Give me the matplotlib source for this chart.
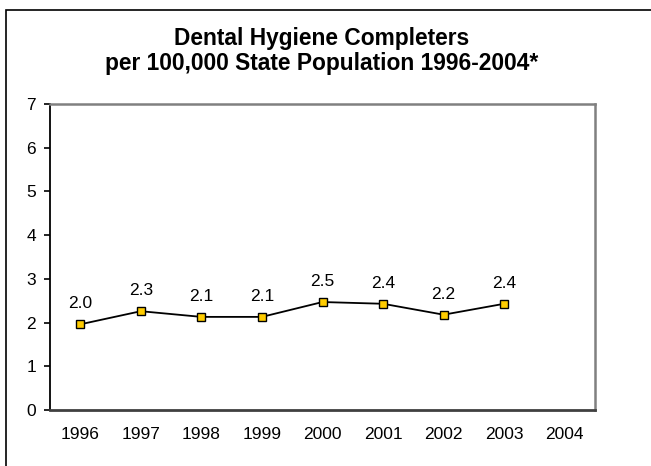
import matplotlib
matplotlib.use("Agg")
import matplotlib.pyplot as plt
from matplotlib.patches import Rectangle

plt.rcParams['font.family'] = ['Liberation Sans', 'DejaVu Sans']

# Data
years = ["1996", "1997", "1998", "1999", "2000", "2001", "2002", "2003", "2004"]
values = [1.96, 2.26, 2.13, 2.13, 2.47, 2.43, 2.18, 2.43]
labels = ["2.0", "2.3", "2.1", "2.1", "2.5", "2.4", "2.2", "2.4"]

W, H = 651, 466
fig = plt.figure(figsize=(W / 100, H / 100), dpi=100)
ax = fig.add_axes([50 / W, (H - 410) / H, (595 - 50) / W, (410 - 104) / H])

x = list(range(len(values)))
ax.plot(x, values, color="black", lw=1.3, marker="s", markersize=6,
        markerfacecolor="#FFCC00", markeredgecolor="black", markeredgewidth=1.0,
        zorder=3)
for xi, v, lab in zip(x, values, labels):
    ax.annotate(lab, (xi, v), xytext=(0, 11.5), textcoords="offset points",
                ha="center", va="baseline", fontsize=12.5)

ax.set_xlim(-0.5, len(years) - 0.5)
ax.set_ylim(0, 7)
ax.set_xticks(range(len(years)))
ax.set_xticklabels(years)
ax.set_yticks(range(0, 8))
ax.tick_params(axis="x", length=0, pad=12, labelsize=12.5)
ax.tick_params(axis="y", length=4, width=1.2, pad=6, labelsize=12.5)

ax.spines["left"].set_color("black")
ax.spines["left"].set_linewidth(1.3)
ax.spines["bottom"].set_color("#404040")
ax.spines["bottom"].set_linewidth(2.0)
ax.spines["top"].set_color("#808080")
ax.spines["top"].set_linewidth(1.8)
ax.spines["right"].set_color("#808080")
ax.spines["right"].set_linewidth(1.8)

fig.text(322 / W, (H - 45) / H, "Dental Hygiene Completers",
         ha="center", va="baseline", fontsize=16.4, fontweight="bold")
fig.text(322 / W, (H - 70) / H, "per 100,000 State Population 1996-2004*",
         ha="center", va="baseline", fontsize=16.4, fontweight="bold")

# outer chart border (only top and left edges fall inside the image)
fig.patches.append(Rectangle((6 / W, -0.1), 1.0, (H - 9.5) / H + 0.1,
                             transform=fig.transFigure, fill=False,
                             edgecolor="black", lw=1.2))

plt.savefig("out.png", dpi=100)
